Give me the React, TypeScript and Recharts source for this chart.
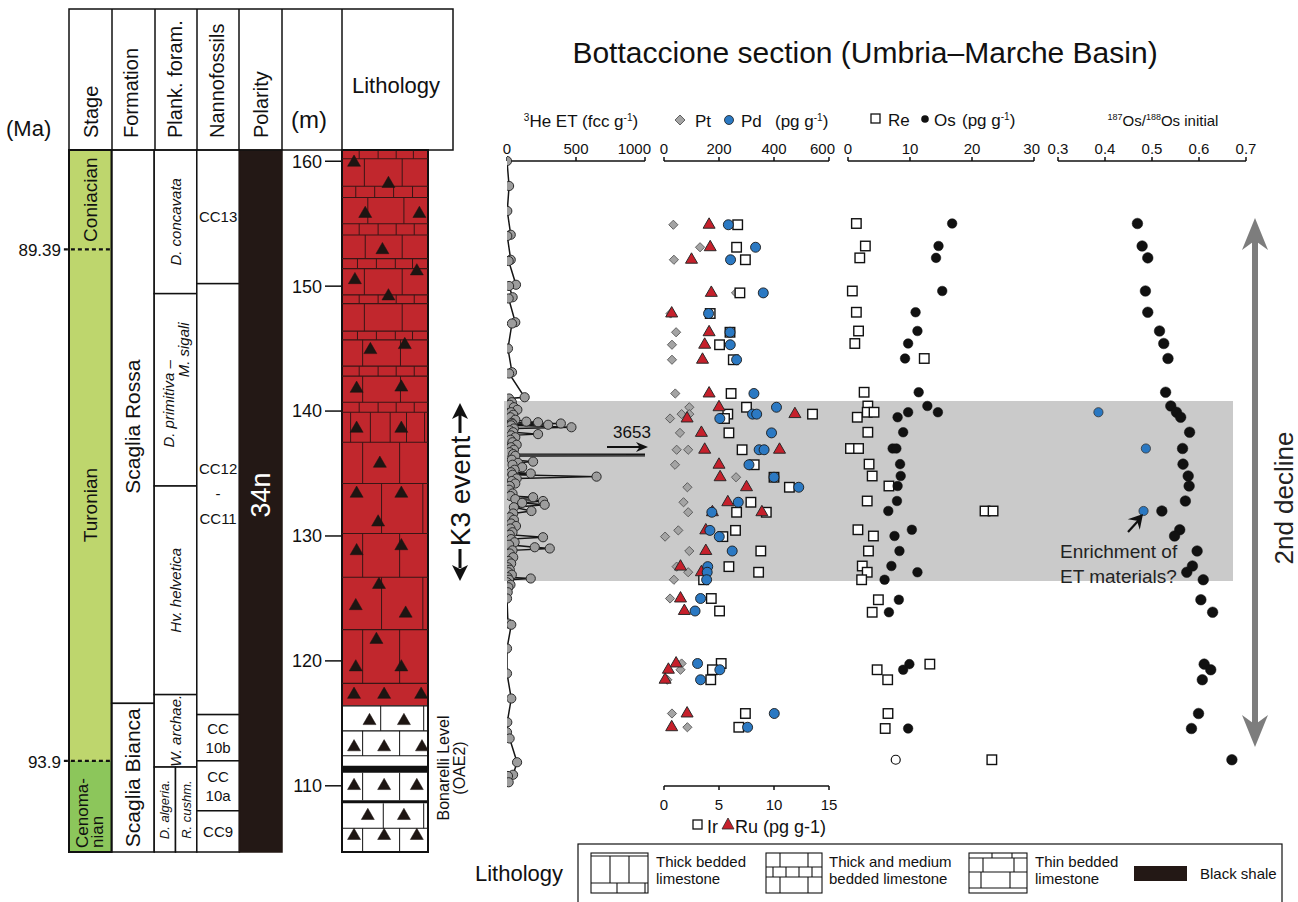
import React from 'react';
import {
  ComposedChart,
  ScatterChart,
  Scatter,
  XAxis,
  YAxis,
  ReferenceArea,
  ReferenceLine,
} from 'recharts';

const FONT = '"Liberation Sans", Arial, Helvetica, sans-serif';
const NARROW = '"Liberation Sans Narrow", "Arial Narrow", "Liberation Sans", Arial, sans-serif';

type Pair = [number, number];

// ---------- depth window of the geochemical panels (m) ----------
const panelDepth: Pair = [110, 160];
const k3Band: Pair = [126.4, 140.8];
const depthTicks = [110, 115, 120, 125, 130, 135, 140, 145, 150, 155];

// ---------- 3He ET (fcc/g), [depth, value] ----------
const heET: Pair[] = [
  [160.0, 0], [158.0, 15], [156.0, 2], [154.1, 27], [154.0, 2], [152.1, 27], [152.0, 12],
  [150.1, 65], [150.0, 15], [149.1, 41], [149.0, 12], [147.1, 60], [147.0, 36], [145.0, 7],
  [143.1, 36], [143.0, 15], [141.1, 128], [141.0, 15],
  [140.7, 35], [140.5, 20], [140.3, 50], [140.1, 75], [139.9, 30], [139.7, 45], [139.5, 25],
  [139.3, 60], [139.15, 140], [139.1, 225], [139.05, 35], [139.0, 390], [138.95, 40],
  [138.9, 298], [138.85, 30], [138.7, 467], [138.6, 50], [138.45, 20], [138.3, 45],
  [138.15, 225], [138.05, 30], [137.9, 60], [137.7, 25], [137.5, 40], [137.3, 70], [137.1, 30],
  [136.9, 50], [136.7, 20], [136.55, 45], [136.52, 3653], [136.44, 3653], [136.41, 60],
  [136.1, 35], [135.95, 189], [135.85, 80], [135.7, 40], [135.5, 110], [135.3, 55], [135.1, 30],
  [135.0, 172], [134.9, 40], [134.75, 649], [134.6, 70], [134.4, 35], [134.2, 60], [134.0, 20],
  [133.7, 15], [133.4, 40], [133.2, 25], [133.1, 189], [132.95, 60], [132.8, 261], [132.65, 110],
  [132.5, 273], [132.3, 50], [132.0, 177], [131.8, 45], [131.5, 20], [131.3, 50], [131.0, 30],
  [130.8, 65], [130.6, 25], [130.3, 40], [130.1, 20], [129.9, 261], [129.75, 30], [129.5, 55],
  [129.3, 15], [129.1, 201], [129.0, 310], [128.85, 40], [128.6, 20], [128.3, 45], [128.0, 10],
  [127.8, 30], [127.5, 5], [127.3, 20], [127.1, 10], [126.9, 35], [126.7, 5], [126.6, 172],
  [126.5, 15], [126.3, 0], [126.1, 25], [125.9, 10], [125.5, 5], [125.0, 0],
  [123.0, 7], [122.9, 31], [121.0, 0], [119.0, 0], [117.0, 31], [115.1, 2], [114.3, 0],
  [113.8, 19], [111.9, 73], [110.9, 44], [110.8, 7], [110.3, 12],
];

// ---------- PGE (pg/g), [depth, value] ----------
const ptData: Pair[] = [
  [154.9, 34], [153.1, 131], [152.1, 36], [149.45, 262], [147.8, 24], [146.3, 44], [145.3, 29],
  [144.1, 29], [141.4, 41], [140.3, 92], [139.75, 64], [139.75, 92], [139.4, 22], [138.25, 58],
  [136.9, 46], [136.9, 88], [135.7, 40], [134.7, 262], [133.9, 85], [132.7, 71], [131.9, 88],
  [130.45, 52], [129.95, 4], [128.8, 92], [127.55, 46], [127.1, 88], [126.5, 36], [125.0, 22],
  [119.8, 64], [119.3, 60], [118.5, 12], [115.8, 29], [114.7, 85],
];
const pdData: Pair[] = [
  [154.9, 234], [153.1, 333], [152.1, 242], [149.45, 361], [147.8, 162], [146.3, 240],
  [145.3, 241], [144.1, 264], [141.4, 327], [140.3, 409], [139.75, 322], [139.75, 337],
  [139.4, 203], [138.25, 391], [136.9, 346], [136.9, 364], [135.7, 309], [134.7, 400],
  [133.9, 490], [132.7, 270], [131.9, 174], [130.45, 167], [129.95, 201], [128.8, 248],
  [127.55, 159], [127.1, 157], [126.5, 155], [125.0, 133], [124.0, 113], [119.8, 122],
  [119.3, 203], [118.5, 133], [115.8, 401], [114.7, 304],
];
const irData: Pair[] = [
  [154.9, 6.7], [153.1, 6.6], [152.1, 7.4], [149.45, 6.9], [147.8, 4.2], [146.3, 6.0],
  [145.3, 5.05], [144.1, 6.3], [141.4, 6.1], [140.3, 7.5], [139.75, 5.8], [139.75, 13.5],
  [139.4, 5.5], [138.25, 5.9], [136.9, 7.1], [135.7, 8.2], [134.7, 10.0], [133.9, 11.4],
  [132.7, 7.9], [131.9, 6.6], [131.9, 9.3], [130.45, 6.5], [129.95, 5.35], [128.8, 8.8],
  [127.55, 5.9], [127.1, 8.6], [126.5, 3.6], [125.0, 4.3], [124.0, 5.05], [119.8, 5.2],
  [119.3, 4.4], [118.5, 4.25], [115.8, 7.4], [114.7, 6.8],
];
const ruData: Pair[] = [
  [154.9, 4.1], [153.1, 4.2], [152.1, 2.5], [149.45, 4.3], [147.8, 0.7], [146.3, 4.1],
  [145.3, 3.7], [144.1, 3.5], [141.4, 4.1], [140.3, 5.0], [139.75, 11.9], [139.4, 2.1],
  [138.25, 3.4], [136.9, 3.7], [136.9, 10.5], [135.7, 5.0], [134.7, 5.1], [133.9, 7.5],
  [132.7, 5.8], [131.9, 4.4], [131.9, 8.9], [130.45, 3.8], [128.8, 3.8], [127.55, 1.5],
  [127.1, 3.4], [125.0, 1.5], [124.0, 1.85], [119.8, 1.1], [119.3, 0.4], [118.5, 0.1],
  [115.8, 2.1], [114.7, 0.7],
];

// ---------- Re / Os (pg/g) ----------
const reData: Pair[] = [
  [155.0, 1.35], [153.2, 2.8], [152.25, 1.9], [149.6, 0.7], [147.9, 1.35], [146.4, 1.7],
  [145.4, 1.1], [144.2, 12.3], [141.5, 2.6], [140.4, 3.2], [139.9, 3.1], [139.9, 4.2],
  [139.5, 1.5], [138.3, 3.2], [137.0, 0.4], [137.0, 1.7], [135.75, 3.4], [134.8, 3.9],
  [134.0, 6.6], [132.8, 3.1], [132.0, 22.1], [132.0, 23.4], [130.5, 1.6], [130.0, 4.1],
  [128.8, 3.3], [127.6, 2.3], [127.1, 3.1], [126.5, 2.2], [124.9, 4.9], [123.9, 3.9],
  [119.75, 13.2], [119.3, 4.7], [118.5, 6.4], [115.8, 6.45], [114.6, 6.0], [112.1, 23.2],
];
const osData: Pair[] = [
  [155.0, 16.8], [153.2, 14.6], [152.25, 14.2], [149.6, 15.2], [147.9, 10.9], [146.4, 11.2],
  [145.4, 9.7], [144.2, 9.2], [141.5, 11.4], [140.4, 12.8], [139.9, 9.7], [139.9, 14.5],
  [139.5, 8.0], [138.3, 8.9], [137.0, 7.2], [137.0, 7.8], [135.75, 8.4], [134.8, 8.5],
  [134.0, 8.0], [132.8, 7.9], [132.0, 6.5], [130.5, 10.3], [130.0, 7.5], [128.8, 8.3],
  [127.6, 7.0], [127.1, 11.2], [126.5, 5.9], [124.9, 8.2], [123.9, 6.6], [119.75, 9.9],
  [119.3, 8.9], [114.6, 9.7],
];
const osOpen: Pair[] = [[112.1, 7.7]];

// ---------- 187Os/188Os initial ----------
const osRatio: Pair[] = [
  [155.0, 0.469], [153.2, 0.479], [152.25, 0.491], [149.6, 0.486], [147.9, 0.491],
  [146.4, 0.516], [145.4, 0.525], [144.2, 0.534], [141.5, 0.529], [140.4, 0.54],
  [139.9, 0.552], [139.5, 0.561], [138.3, 0.58], [137.0, 0.565], [135.75, 0.566],
  [134.8, 0.577], [134.0, 0.579], [132.8, 0.571], [132.0, 0.521], [130.5, 0.559],
  [130.0, 0.548], [128.8, 0.596], [127.6, 0.586], [127.1, 0.574], [126.5, 0.609],
  [124.9, 0.604], [123.9, 0.629], [119.75, 0.611], [119.3, 0.625], [118.5, 0.607],
  [115.8, 0.599], [114.6, 0.584], [112.1, 0.67],
];
const osRatioET: Pair[] = [[139.9, 0.386], [137.0, 0.487], [132.0, 0.482]];

// ---------- stratigraphic columns (depth m) ----------
const stratDepth: Pair = [104.7, 160.9];
const stages = [
  { name: 'Coniacian', top: 160.9, bottom: 152.95 },
  { name: 'Turonian', top: 152.95, bottom: 112.0 },
  { name: 'Cenoma-|nian', top: 112.0, bottom: 104.7 },
];
const stageAges = [
  { age: '89.39', m: 152.95 },
  { age: '93.9', m: 112.0 },
];
const formations = [
  { name: 'Scaglia Rossa', top: 160.9, bottom: 116.6 },
  { name: 'Scaglia Bianca', top: 116.6, bottom: 104.7 },
];
const forams = [
  { name: 'D. concavata', top: 160.9, bottom: 149.4, part: 'full' },
  { name: 'D. primitiva –|M. sigali', top: 149.4, bottom: 134.0, part: 'full' },
  { name: 'Hv. helvetica', top: 134.0, bottom: 117.3, part: 'full' },
  { name: 'W. archae.', top: 117.3, bottom: 111.5, part: 'full' },
  { name: 'D. algeria.', top: 111.5, bottom: 104.7, part: 'left' },
  { name: 'R. cushm.', top: 111.5, bottom: 104.7, part: 'right' },
];
const nannos = [
  { name: 'CC13', top: 160.9, bottom: 150.2 },
  { name: 'CC12|-|CC11', top: 150.2, bottom: 115.7 },
  { name: 'CC|10b', top: 115.7, bottom: 112.0 },
  { name: 'CC|10a', top: 112.0, bottom: 108.0 },
  { name: 'CC9', top: 108.0, bottom: 104.7 },
];
const polarity = [{ name: '34n', top: 160.9, bottom: 104.7 }];

// ---------- lithology log ----------
const redLimestone: Pair = [116.4, 160.9];
const whiteLimestone: Pair = [104.7, 116.4];
const blackShales: Pair[] = [[111.05, 111.6], [108.6, 108.85]];
const bedTops = [
  160.2, 158.0, 157.1, 155.0, 154.1, 152.2, 151.4, 149.3, 148.6, 146.4, 145.7, 143.6, 142.8,
  140.7, 139.9, 137.5, 134.2, 130.2, 126.7, 122.5, 118.2, 114.4, 112.4, 106.6,
];
// joints: [bed top, bed bottom, position across the column 0..1]
const joints: [number, number, number][] = [
  [160.9, 160.2, 0.2], [160.9, 160.2, 0.42], [160.9, 160.2, 0.63], [160.9, 160.2, 0.83],
  [160.2, 158.0, 0.26], [160.2, 158.0, 0.7],
  [158.0, 157.1, 0.16], [158.0, 157.1, 0.38], [158.0, 157.1, 0.6], [158.0, 157.1, 0.82],
  [157.1, 155.0, 0.3], [157.1, 155.0, 0.72],
  [155.0, 154.1, 0.2], [155.0, 154.1, 0.42], [155.0, 154.1, 0.63], [155.0, 154.1, 0.84],
  [154.1, 152.2, 0.27], [154.1, 152.2, 0.7],
  [152.2, 151.4, 0.18], [152.2, 151.4, 0.4], [152.2, 151.4, 0.62], [152.2, 151.4, 0.82],
  [151.4, 149.3, 0.26], [151.4, 149.3, 0.7],
  [149.3, 148.6, 0.2], [149.3, 148.6, 0.42], [149.3, 148.6, 0.63], [149.3, 148.6, 0.84],
  [148.6, 146.4, 0.26], [148.6, 146.4, 0.7],
  [146.4, 145.7, 0.18], [146.4, 145.7, 0.4], [146.4, 145.7, 0.62], [146.4, 145.7, 0.82],
  [145.7, 143.6, 0.24], [145.7, 143.6, 0.68],
  [143.6, 142.8, 0.2], [143.6, 142.8, 0.42], [143.6, 142.8, 0.63], [143.6, 142.8, 0.84],
  [142.8, 140.7, 0.24], [142.8, 140.7, 0.68],
  [140.7, 139.9, 0.2], [140.7, 139.9, 0.42], [140.7, 139.9, 0.63], [140.7, 139.9, 0.84],
  [139.9, 137.5, 0.1], [139.9, 137.5, 0.33], [139.9, 137.5, 0.56], [139.9, 137.5, 0.75], [139.9, 137.5, 0.96],
  [137.5, 134.2, 0.24], [137.5, 134.2, 0.67],
  [134.2, 130.2, 0.46], [134.2, 130.2, 0.94],
  [130.2, 126.7, 0.24], [130.2, 126.7, 0.67],
  [126.7, 122.5, 0.46], [126.7, 122.5, 0.94],
  [122.5, 118.2, 0.24], [122.5, 118.2, 0.67],
  [116.4, 114.4, 0.45], [116.4, 114.4, 0.95],
  [114.4, 112.4, 0.24], [114.4, 112.4, 0.67],
  [111.05, 108.85, 0.24], [111.05, 108.85, 0.67],
  [108.6, 106.6, 0.48], [108.6, 106.6, 0.95],
  [106.6, 104.7, 0.24], [106.6, 104.7, 0.67],
];
// chert nodules (triangles): [position across 0..1, depth]
const cherts: Pair[] = [
  [0.14, 159.9], [0.54, 158.2], [0.27, 155.8], [0.9, 155.8], [0.47, 152.9], [0.87, 151.2],
  [0.15, 150.5], [0.54, 149.2], [0.33, 144.9], [0.73, 145.3], [0.17, 141.8], [0.69, 141.9],
  [0.17, 138.6], [0.69, 138.6], [0.44, 135.8], [0.17, 133.4], [0.69, 133.4], [0.42, 131.1],
  [0.17, 128.8], [0.69, 129.2], [0.43, 126.1], [0.16, 124.4], [0.74, 123.8], [0.4, 121.7],
  [0.16, 119.5], [0.69, 119.5], [0.14, 117.3], [0.49, 117.3], [0.92, 117.3],
  [0.32, 115.2], [0.72, 115.2], [0.14, 113.1], [0.49, 113.1], [0.93, 113.1],
  [0.14, 110.0], [0.49, 110.0], [0.87, 110.0], [0.3, 107.6], [0.72, 107.6],
  [0.14, 106.0], [0.49, 106.0], [0.87, 106.0],
];
const meterTicks = [110, 120, 130, 140, 150, 160];
const meterMinor = [115, 125, 135, 145, 155];

// ---------- axis ticks ----------
const heTicks = [0, 500, 1000];
const pgTicks = [0, 200, 400, 600];
const irTicks = [0, 5, 10, 15];
const reTicks = [0, 10, 20, 30];
const ratioTicks = [0.3, 0.4, 0.5, 0.6, 0.7];

const pts = (a: Pair[]) => a.map(([m, v]) => ({ m, v }));
const chertPts = cherts.map(([x, m]) => ({ x, m }));

// ---------- marker shapes ----------
const dot = (r: number, fill: string, stroke: string, sw = 1) => (p: any) => (
  <circle cx={p.cx} cy={p.cy} r={r} fill={fill} stroke={stroke} strokeWidth={sw} />
);
const square = (s: number) => (p: any) => (
  <rect x={p.cx - s / 2} y={p.cy - s / 2} width={s} height={s} fill="#fff" stroke="#111" strokeWidth={1.4} />
);
const diamond = (r: number) => (p: any) => (
  <polygon
    points={`${p.cx},${p.cy - r} ${p.cx + r},${p.cy} ${p.cx},${p.cy + r} ${p.cx - r},${p.cy}`}
    fill="#a4a4a4"
    stroke="#555"
    strokeWidth={0.9}
  />
);
const triangle = (s: number, fill: string, stroke: string, sw = 1) => (p: any) => {
  const h = s * 0.866;
  return (
    <polygon
      points={`${p.cx},${p.cy - (h * 2) / 3} ${p.cx + s / 2},${p.cy + h / 3} ${p.cx - s / 2},${p.cy + h / 3}`}
      fill={fill}
      stroke={stroke}
      strokeWidth={sw}
    />
  );
};

const tickStyle = { fontSize: 15, fill: '#111', fontFamily: FONT };
const axisStroke = { stroke: '#111', strokeWidth: 1.5 };

// top-axis tick label; the last one is right-aligned so neighbouring panels do not collide
const edgeTick = (last: number, fmt?: (v: number) => string) => (p: any) => {
  const v = p.payload.value;
  const isLast = Math.abs(v - last) < 1e-9;
  return (
    <text
      x={p.x + (isLast ? 6 : 0)}
      y={p.y}
      textAnchor={isLast ? 'end' : 'middle'}
      fontSize={15}
      fill="#111"
      fontFamily={FONT}
    >
      {fmt ? fmt(v) : v}
    </text>
  );
};

// ---------- zone drawing for stratigraphic columns ----------
type LabelOpt = {
  rotate?: boolean;
  size?: number;
  italic?: boolean;
  color?: string;
  gap?: number;
  offsets?: Pair[];
  bottomStart?: boolean;
};
const zoneShape = (label: string, fill: string, opt: LabelOpt, stroke = '#111') => (p: any) => {
  const { x, y, width, height } = p;
  const cx = x + width / 2;
  const cy = y + height / 2;
  const lines = label.split('|');
  const size = opt.size ?? 15;
  const gap = opt.gap ?? size * 1.05;
  return (
    <g>
      <rect x={x} y={y} width={width} height={height} fill={fill} stroke={stroke} strokeWidth={1.5} />
      {lines.map((ln, i) => {
        const off = opt.offsets?.[i] ?? [0, 0];
        const shift = (i - (lines.length - 1) / 2) * gap;
        if (opt.rotate) {
          const tx = cx + shift + off[0];
          const ty = opt.bottomStart ? y + height - 4 : cy + off[1];
          return (
            <text
              key={i}
              x={tx}
              y={ty}
              transform={`rotate(-90 ${tx} ${ty})`}
              textAnchor={opt.bottomStart ? 'start' : 'middle'}
              dominantBaseline="central"
              fontSize={size}
              fontStyle={opt.italic ? 'italic' : 'normal'}
              fill={opt.color ?? '#111'}
              fontFamily={FONT}
            >
              {ln}
            </text>
          );
        }
        return (
          <text
            key={i}
            x={cx + off[0]}
            y={cy + shift + off[1]}
            textAnchor="middle"
            dominantBaseline="central"
            fontSize={size}
            fill={opt.color ?? '#111'}
            fontFamily={FONT}
          >
            {ln}
          </text>
        );
      })}
    </g>
  );
};

const stageFill: Record<string, string> = {
  Coniacian: '#bed66d',
  Turonian: '#bed66d',
  'Cenoma-|nian': '#8cc65b',
};

const StratColumns = () => (
  <div style={{ position: 'absolute', left: 59, top: 148 }}>
    <ComposedChart width={225} height={706} margin={{ top: 2, right: 2, bottom: 2, left: 10 }}>
      <XAxis type="number" dataKey="x" domain={[0, 5]} hide allowDataOverflow />
      <YAxis type="number" dataKey="m" domain={stratDepth} hide allowDataOverflow />
      {stages.map((s) => (
        <ReferenceArea
          key={s.name}
          x1={0}
          x2={1}
          y1={s.bottom}
          y2={s.top}
          shape={zoneShape(
            s.name,
            stageFill[s.name],
            s.name.includes('|')
              ? { rotate: true, size: 17, gap: 15, bottomStart: true }
              : { rotate: true, size: 19 },
            'none',
          )}
        />
      ))}
      {formations.map((f) => (
        <ReferenceArea
          key={f.name}
          x1={1}
          x2={2}
          y1={f.bottom}
          y2={f.top}
          shape={zoneShape(f.name, '#fff', { rotate: true, size: 21 })}
        />
      ))}
      {forams.map((f) => (
        <ReferenceArea
          key={f.name}
          x1={f.part === 'right' ? 2.5 : 2}
          x2={f.part === 'left' ? 2.5 : 3}
          y1={f.bottom}
          y2={f.top}
          shape={zoneShape(f.name, '#fff', {
            rotate: true,
            italic: true,
            size: f.part === 'full' ? 15 : 13,
            gap: 0,
            offsets: f.name.includes('|') ? [[-7, 14], [8, -40]] : undefined,
          })}
        />
      ))}
      {nannos.map((n) => (
        <ReferenceArea
          key={n.name}
          x1={3}
          x2={4}
          y1={n.bottom}
          y2={n.top}
          shape={zoneShape(n.name, '#fff', {
            size: 15,
            gap: n.name.startsWith('CC12') ? 25 : 19,
            offsets: n.name.startsWith('CC12') ? [[0, -6], [0, -6], [0, -6]] : undefined,
          })}
        />
      ))}
      {polarity.map((p) => (
        <ReferenceArea
          key={p.name}
          x1={4}
          x2={5}
          y1={p.bottom}
          y2={p.top}
          shape={zoneShape(p.name, '#231815', { rotate: true, size: 27, color: '#fff', offsets: [[0, -6]] }, '#231815')}
        />
      ))}
      <ReferenceArea x1={0} x2={1} y1={stratDepth[0]} y2={stratDepth[1]} fill="none" stroke="#111" strokeWidth={2} />
      {stageAges.map((a) => (
        <ReferenceLine
          key={a.age}
          segment={[{ x: -0.12, y: a.m }, { x: 1, y: a.m }]}
          ifOverflow="visible"
          stroke="#111"
          strokeWidth={2.2}
          strokeDasharray="4 3"
        />
      ))}
    </ComposedChart>
  </div>
);

const LithologyLog = () => (
  <div style={{ position: 'absolute', left: 282, top: 148 }}>
    <ComposedChart width={148} height={706} margin={{ top: 2, right: 2, bottom: 2, left: 0 }}>
      <XAxis type="number" dataKey="x" domain={[0, 1]} hide allowDataOverflow />
      <YAxis
        yAxisId="minor"
        type="number"
        domain={stratDepth}
        allowDataOverflow
        ticks={meterMinor}
        width={0}
        tick={false}
        tickSize={8}
        axisLine={false}
        tickLine={axisStroke}
      />
      <YAxis
        type="number"
        dataKey="m"
        domain={stratDepth}
        allowDataOverflow
        ticks={meterTicks}
        width={60}
        tickSize={17}
        tickMargin={3}
        axisLine={false}
        tickLine={axisStroke}
        tick={{ fontSize: 18, fill: '#111', fontFamily: FONT }}
      />
      <ReferenceArea x1={0} x2={1} y1={redLimestone[0]} y2={redLimestone[1]} fill="#c1272d" fillOpacity={1} stroke="none" />
      <ReferenceArea x1={0} x2={1} y1={whiteLimestone[0]} y2={whiteLimestone[1]} fill="#fff" fillOpacity={1} stroke="none" />
      {blackShales.map((b, i) => (
        <ReferenceArea key={i} x1={0} x2={1} y1={b[0]} y2={b[1]} fill="#111" fillOpacity={1} stroke="none" />
      ))}
      {bedTops.map((b) => (
        <ReferenceLine key={b} y={b} stroke={b > redLimestone[0] ? '#3a1616' : '#111'} strokeWidth={1.1} />
      ))}
      <ReferenceLine y={redLimestone[0]} stroke="#111" strokeWidth={1.3} />
      {joints.map(([t, b, x], i) => (
        <ReferenceLine
          key={i}
          segment={[{ x, y: t }, { x, y: b }]}
          stroke={t > redLimestone[0] ? '#3a1616' : '#111'}
          strokeWidth={1}
        />
      ))}
      <ReferenceArea x1={0} x2={1} y1={stratDepth[0]} y2={stratDepth[1]} fill="none" stroke="#111" strokeWidth={2} />
      <Scatter data={chertPts} dataKey="m" shape={triangle(13, '#1d1512', '#1d1512', 0.5)} isAnimationActive={false} />
    </ComposedChart>
  </div>
);

const K3Band = () => (
  <div style={{ position: 'absolute', left: 504, top: 161 }}>
    <ComposedChart width={729} height={625} margin={{ top: 0, right: 0, bottom: 0, left: 0 }}>
      <XAxis type="number" dataKey="x" domain={[0, 1]} hide allowDataOverflow />
      <YAxis type="number" dataKey="m" domain={panelDepth} hide allowDataOverflow />
      <ReferenceArea x1={0} x2={1} y1={k3Band[0]} y2={k3Band[1]} fill="#cacaca" fillOpacity={1} stroke="none" />
    </ComposedChart>
  </div>
);

// geochemical panels: plot area spans y 161..786 on the page
const PANEL_TOP = 121;

const depthAxis = (withTicks: boolean) => (
  <YAxis
    type="number"
    dataKey="m"
    domain={panelDepth}
    ticks={withTicks ? depthTicks : []}
    width={0}
    tick={false}
    tickSize={5}
    axisLine={axisStroke}
    tickLine={withTicks ? axisStroke : false}
  />
);

const HePanel = () => (
  <div style={{ position: 'absolute', left: 507 - 30, top: PANEL_TOP }}>
    <ScatterChart width={138 + 60} height={705} margin={{ top: 0, right: 30, bottom: 40, left: 30 }}>
      <XAxis
        xAxisId="he"
        type="number"
        dataKey="v"
        orientation="top"
        domain={[0, 1000]}
        allowDataOverflow
        ticks={heTicks}
        height={40}
        tickSize={4}
        tickMargin={3}
        axisLine={axisStroke}
        tickLine={axisStroke}
        tick={edgeTick(1000)}
      />
      {depthAxis(false)}
      <Scatter
        xAxisId="he"
        data={pts(heET)}
        line={{ stroke: '#151515', strokeWidth: 1.5 }}
        lineType="joint"
        shape={dot(4.6, '#9d9d9d', '#2a2a2a', 1)}
        isAnimationActive={false}
      />
    </ScatterChart>
  </div>
);

const PgePanel = () => (
  <div style={{ position: 'absolute', left: 664 - 30, top: PANEL_TOP }}>
    <ScatterChart width={165 + 60} height={705} margin={{ top: 0, right: 30, bottom: 0, left: 30 }}>
      <XAxis
        xAxisId="pg"
        type="number"
        dataKey="v"
        orientation="top"
        domain={[0, 600]}
        ticks={pgTicks}
        height={40}
        tickSize={4}
        tickMargin={3}
        axisLine={axisStroke}
        tickLine={axisStroke}
        tick={edgeTick(600)}
      />
      <XAxis
        xAxisId="ir"
        type="number"
        dataKey="v"
        orientation="bottom"
        domain={[0, 15]}
        ticks={irTicks}
        height={40}
        tickSize={4}
        tickMargin={9}
        axisLine={axisStroke}
        tickLine={axisStroke}
        tick={tickStyle}
      />
      {depthAxis(true)}
      <Scatter xAxisId="pg" data={pts(ptData)} shape={diamond(4.6)} isAnimationActive={false} />
      <Scatter xAxisId="ir" data={pts(irData)} shape={square(9.5)} isAnimationActive={false} />
      <Scatter xAxisId="ir" data={pts(ruData)} shape={triangle(12, '#c6202b', '#2a2a2a', 1)} isAnimationActive={false} />
      <Scatter xAxisId="pg" data={pts(pdData)} shape={dot(5, '#2b79c3', '#1b1b1b', 0.9)} isAnimationActive={false} />
    </ScatterChart>
  </div>
);

const ReOsPanel = () => (
  <div style={{ position: 'absolute', left: 848 - 30, top: PANEL_TOP }}>
    <ScatterChart width={186 + 60} height={705} margin={{ top: 0, right: 30, bottom: 40, left: 30 }}>
      <XAxis
        xAxisId="re"
        type="number"
        dataKey="v"
        orientation="top"
        domain={[0, 30]}
        ticks={reTicks}
        height={40}
        tickSize={4}
        tickMargin={3}
        axisLine={axisStroke}
        tickLine={axisStroke}
        tick={edgeTick(30)}
      />
      {depthAxis(true)}
      <Scatter xAxisId="re" data={pts(reData)} shape={square(9.5)} isAnimationActive={false} />
      <Scatter xAxisId="re" data={pts(osData)} shape={dot(4.8, '#111', '#111', 0.5)} isAnimationActive={false} />
      <Scatter xAxisId="re" data={pts(osOpen)} shape={dot(4.5, '#fff', '#111', 1.2)} isAnimationActive={false} />
    </ScatterChart>
  </div>
);

const RatioPanel = () => (
  <div style={{ position: 'absolute', left: 1058 - 30, top: PANEL_TOP }}>
    <ScatterChart width={188 + 60} height={705} margin={{ top: 0, right: 30, bottom: 40, left: 30 }}>
      <XAxis
        xAxisId="os"
        type="number"
        dataKey="v"
        orientation="top"
        domain={[0.3, 0.7]}
        ticks={ratioTicks}
        height={40}
        tickSize={4}
        tickMargin={3}
        axisLine={axisStroke}
        tickLine={axisStroke}
        tick={edgeTick(99, (v) => v.toFixed(1))}
      />
      {depthAxis(true)}
      <Scatter xAxisId="os" data={pts(osRatio)} shape={dot(5.3, '#111', '#111', 0.5)} isAnimationActive={false} />
      <Scatter xAxisId="os" data={pts(osRatioET)} shape={dot(4.6, '#2a78c2', '#333', 0.8)} isAnimationActive={false} />
    </ScatterChart>
  </div>
);

// ---------- annotation helpers ----------
const head = (tx: number, ty: number, ang: number, len: number, half: number, notch = 0.3) => {
  const c = Math.cos(ang);
  const s = Math.sin(ang);
  const bx = tx - c * len;
  const by = ty - s * len;
  const nx = tx - c * len * (1 - notch);
  const ny = ty - s * len * (1 - notch);
  return `${tx},${ty} ${bx - s * half},${by + c * half} ${nx},${ny} ${bx + s * half},${by - c * half}`;
};

const Sup = ({ t, size = 10 }: { t: string; size?: number }) => (
  <tspan fontSize={size} dy={-6}>
    {t}
  </tspan>
);

const Overlay = () => {
  const hdrCols = [112, 155, 197, 239, 282, 342];
  return (
    <svg width={1298} height={902} style={{ position: 'absolute', left: 0, top: 0, pointerEvents: 'none' }} fontFamily={FONT}>
      <text x={865} y={63} fontSize={30} textAnchor="middle" fill="#111">
        Bottaccione section (Umbria–Marche Basin)
      </text>

      {/* header of the stratigraphic table */}
      <rect x={69} y={9} width={384} height={141} fill="none" stroke="#111" strokeWidth={1.5} />
      {hdrCols.map((x) => (
        <line key={x} x1={x} y1={9} x2={x} y2={150} stroke="#111" strokeWidth={1.5} />
      ))}
      {[
        ['Stage', 91],
        ['Formation', 131],
        ['Plank. foram.', 175],
        ['Nannofossils', 217],
        ['Polarity', 261],
      ].map(([t, x]) => (
        <text
          key={t as string}
          x={x as number}
          y={138}
          transform={`rotate(-90 ${x} 138)`}
          fontSize={20}
          dominantBaseline="central"
          fill="#111"
        >
          {t}
        </text>
      ))}
      <text x={309} y={128} fontSize={24} textAnchor="middle" fill="#111">(m)</text>
      <text x={396} y={93} fontSize={22} textAnchor="middle" fill="#111">Lithology</text>
      <text x={6} y={136} fontSize={22} fill="#111">(Ma)</text>
      <text x={61} y={256} fontSize={17} textAnchor="end" fill="#111">89.39</text>
      <text x={61} y={768} fontSize={17} textAnchor="end" fill="#111">93.9</text>

      {/* K3 event */}
      <polygon points={head(460, 403, -Math.PI / 2, 16, 8, 0.25)} fill="#111" />
      <line x1={460} y1={415} x2={460} y2={433} stroke="#111" strokeWidth={3} />
      <text x={460} y={491} transform="rotate(-90 460 491)" fontSize={28} textAnchor="middle" dominantBaseline="central" fill="#111">
        K3 event
      </text>
      <line x1={460} y1={549} x2={460} y2={568} stroke="#111" strokeWidth={3} />
      <polygon points={head(460, 581, Math.PI / 2, 16, 8, 0.25)} fill="#111" />

      {/* Bonarelli level */}
      <text x={443} y={768} transform="rotate(-90 443 768)" fontSize={16} fontFamily={NARROW} textAnchor="middle" dominantBaseline="central" fill="#111">
        Bonarelli Level
      </text>
      <text x={459} y={768} transform="rotate(-90 459 768)" fontSize={16} fontFamily={NARROW} textAnchor="middle" dominantBaseline="central" fill="#111">
        (OAE2)
      </text>

      {/* panel titles */}
      <text x={581} y={127} fontSize={17} textAnchor="middle" fill="#111">
        <Sup t="3" />
        <tspan dy={6}>He ET (fcc g</tspan>
        <Sup t="-1" />
        <tspan dy={6}>)</tspan>
      </text>
      <polygon points="680,115 685,120 680,125 675,120" fill="#a4a4a4" stroke="#555" strokeWidth={0.9} />
      <text x={695} y={127} fontSize={17} fill="#111">Pt</text>
      <circle cx={729} cy={120} r={4.5} fill="#2b79c3" stroke="#1b1b1b" strokeWidth={0.8} />
      <text x={741} y={127} fontSize={17} fill="#111">Pd</text>
      <text x={775} y={127} fontSize={17} fill="#111">
        (pg g<Sup t="-1" />
        <tspan dy={6}>)</tspan>
      </text>
      <rect x={871} y={114} width={9} height={9} fill="#fff" stroke="#111" strokeWidth={1.3} />
      <text x={888} y={126} fontSize={17} fill="#111">Re</text>
      <circle cx={925} cy={119} r={3.8} fill="#111" />
      <text x={934} y={126} fontSize={17} fill="#111">Os</text>
      <text x={962} y={126} fontSize={17} fill="#111">
        (pg g<Sup t="-1" />
        <tspan dy={6}>)</tspan>
      </text>
      <text x={1163} y={126} fontSize={15} textAnchor="middle" fill="#111">
        <Sup t="187" size={9} />
        <tspan dy={6}>Os/</tspan>
        <Sup t="188" size={9} />
        <tspan dy={6}>Os initial</tspan>
      </text>

      {/* Ir / Ru key under the PGE panel */}
      <rect x={693} y={820} width={9} height={9} fill="#fff" stroke="#111" strokeWidth={1.3} />
      <text x={707} y={833} fontSize={18} fontFamily={NARROW} fill="#111">Ir</text>
      <polygon points={head(728, 818, -Math.PI / 2, 11, 6, 0)} fill="#c6202b" stroke="#2a2a2a" strokeWidth={0.8} />
      <text x={735} y={833} fontSize={18} fontFamily={NARROW} fill="#111">Ru (pg g-1)</text>

      {/* 3653 spike */}
      <text x={632} y={438} fontSize={17} textAnchor="middle" fill="#111">3653</text>
      <line x1={607} y1={447} x2={640} y2={447} stroke="#111" strokeWidth={2} />
      <polygon points={head(648, 447, 0, 12, 5, 0.3)} fill="#111" />

      {/* Enrichment of ET materials? */}
      <line x1={1128} y1={532} x2={1138} y2={521} stroke="#111" strokeWidth={2.2} />
      <polygon points={head(1143, 514, -0.85, 14, 8, 0.35)} fill="#111" />
      <text x={1060} y={558} fontSize={19} fill="#222">Enrichment of</text>
      <text x={1060} y={583} fontSize={19} fill="#222">ET materials?</text>

      {/* 2nd decline */}
      <line x1={1255} y1={240} x2={1255} y2={725} stroke="#7d7d7d" strokeWidth={6} />
      <polygon points={head(1255, 218, -Math.PI / 2, 32, 13, 0.3)} fill="#7d7d7d" />
      <polygon points={head(1255, 747, Math.PI / 2, 32, 13, 0.3)} fill="#7d7d7d" />
      <text x={1284} y={498} transform="rotate(-90 1284 498)" fontSize={26} textAnchor="middle" dominantBaseline="central" fill="#222">
        2nd decline
      </text>

      {/* lithology key */}
      <text x={475} y={881} fontSize={22} fontFamily={NARROW} fill="#111">Lithology</text>
      <rect x={578} y={844} width={704} height={80} fill="none" stroke="#111" strokeWidth={1.2} />
      <g stroke="#111" strokeWidth={1.1} fill="none">
        <rect x={591} y={853} width={57} height={40} />
        <line x1={591} y1={856} x2={648} y2={856} />
        <line x1={610} y1={856} x2={610} y2={883} />
        <line x1={629} y1={856} x2={629} y2={883} />
        <line x1={591} y1={883} x2={648} y2={883} />
        <line x1={617} y1={883} x2={617} y2={893} />
        <line x1={645} y1={883} x2={645} y2={893} />
      </g>
      <text x={656} y={867} fontSize={15} fontFamily={NARROW} fill="#111">Thick bedded</text>
      <text x={656} y={884} fontSize={15} fontFamily={NARROW} fill="#111">limestone</text>
      <g stroke="#111" strokeWidth={1.1} fill="none">
        <rect x={766} y={853} width={56} height={40} />
        <line x1={780} y1={853} x2={780} y2={867} />
        <line x1={808} y1={853} x2={808} y2={867} />
        <line x1={766} y1={867} x2={822} y2={867} />
        <line x1={773} y1={867} x2={773} y2={877} />
        <line x1={786} y1={867} x2={786} y2={877} />
        <line x1={799} y1={867} x2={799} y2={877} />
        <line x1={812} y1={867} x2={812} y2={877} />
        <line x1={766} y1={877} x2={822} y2={877} />
        <line x1={780} y1={877} x2={780} y2={893} />
        <line x1={808} y1={877} x2={808} y2={893} />
      </g>
      <text x={829} y={867} fontSize={15} fontFamily={NARROW} fill="#111">Thick and medium</text>
      <text x={829} y={884} fontSize={15} fontFamily={NARROW} fill="#111">bedded limestone</text>
      <g stroke="#111" strokeWidth={1.1} fill="none">
        <rect x={969} y={853} width={58} height={40} />
        <line x1={969} y1={858} x2={1027} y2={858} />
        <line x1={992} y1={853} x2={992} y2={858} />
        <line x1={1012} y1={853} x2={1012} y2={858} />
        <line x1={983} y1={858} x2={983} y2={872} />
        <line x1={1014} y1={858} x2={1014} y2={872} />
        <line x1={969} y1={872} x2={1027} y2={872} />
        <line x1={981} y1={872} x2={981} y2={888} />
        <line x1={1010} y1={872} x2={1010} y2={888} />
        <line x1={969} y1={888} x2={1027} y2={888} />
      </g>
      <text x={1035} y={867} fontSize={15} fontFamily={NARROW} fill="#111">Thin bedded</text>
      <text x={1035} y={884} fontSize={15} fontFamily={NARROW} fill="#111">limestone</text>
      <rect x={1134} y={866} width={53} height={15} fill="#231815" />
      <text x={1200} y={879} fontSize={15} fontFamily={NARROW} fill="#111">Black shale</text>
    </svg>
  );
};

export default function App() {
  return (
    <div
      style={{
        position: 'absolute',
        left: 0,
        top: 0,
        width: 1298,
        height: 902,
        background: '#fff',
        overflow: 'hidden',
        fontFamily: FONT,
      }}
    >
      <K3Band />
      <StratColumns />
      <LithologyLog />
      <HePanel />
      <PgePanel />
      <ReOsPanel />
      <RatioPanel />
      <Overlay />
    </div>
  );
}
